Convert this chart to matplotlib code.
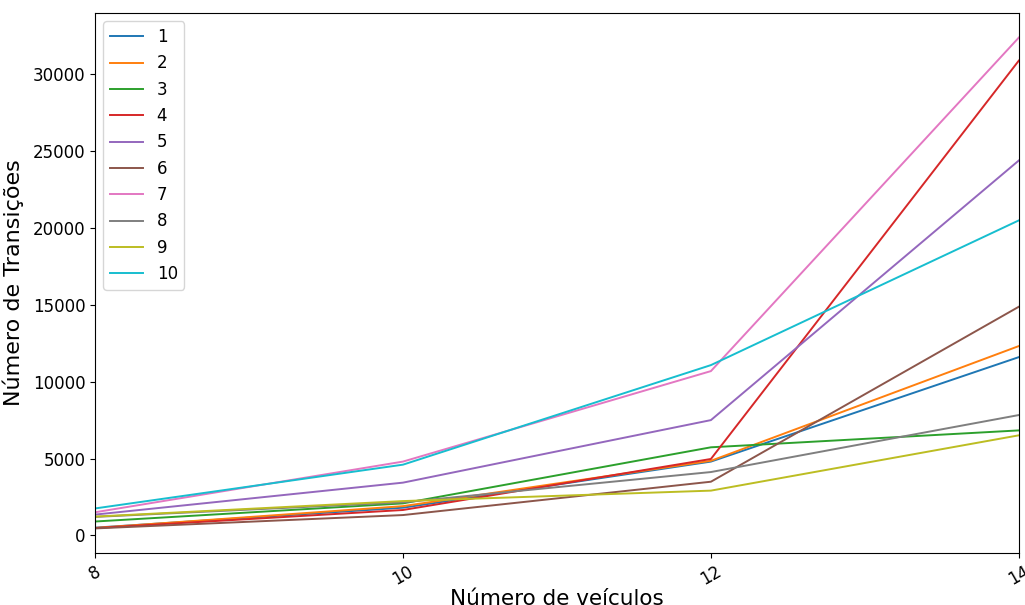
import matplotlib
matplotlib.use("Agg")
import matplotlib.pyplot as plt

veiculos = [8, 10, 12, 14]
series_labels = ["1", "2", "3", "4", "5", "6", "7", "8", "9", "10"]
s1 = [500, 1800, 4800, 11600]
s2 = [480, 1900, 4850, 12320]
s3 = [900, 2080, 5730, 6830]
s4 = [470, 1650, 4970, 30900]
s5 = [1350, 3430, 7500, 24400]
s6 = [450, 1320, 3490, 14880]
s7 = [1500, 4800, 10690, 32400]
s8 = [1200, 2150, 4120, 7830]
s9 = [1220, 2230, 2910, 6510]
s10 = [1750, 4600, 11080, 20500]
series = [s1, s2, s3, s4, s5, s6, s7, s8, s9, s10]

fig = plt.figure(figsize=(10.25, 6.05), dpi=100)
ax = fig.add_axes([0.0927, 0.086, 0.9013, 0.8925])

for lab, vals in zip(series_labels, series):
    ax.plot(veiculos, vals, label=lab, linewidth=1.4)

ax.set_xlim(8, 14)
ax.set_xticks([8, 10, 12, 14])
ax.tick_params(axis="both", labelsize=12)
plt.setp(ax.get_xticklabels(), rotation=30)
ax.set_xlabel("Número de veículos", fontsize=15.5, labelpad=0)
ax.set_ylabel("Número de Transições", fontsize=16, labelpad=6)
ax.legend(loc="upper left", fontsize=12)

fig.savefig("out.png", dpi=100)
